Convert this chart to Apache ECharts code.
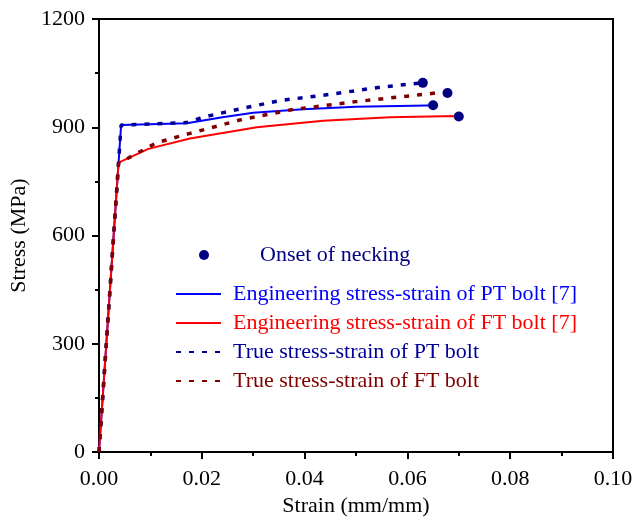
<!DOCTYPE html>
<html>
<head>
<meta charset="utf-8">
<script src="https://cdn.jsdelivr.net/npm/echarts@6/dist/echarts.min.js"></script>
<style>html,body{margin:0;padding:0;background:#fff}#c{width:635px;height:522px}</style>
</head>
<body>
<div id="c"></div>
<script>
// Onset of necking points
const neckStrain = [0.063, 0.065, 0.0678, 0.070];
const neckStress = [1023, 961, 995, 930];
// Engineering stress-strain of PT bolt [7]
const engPTStrain = [0, 0.0043, 0.0171, 0.0240, 0.030, 0.0397, 0.050, 0.0638, 0.065];
const engPTStress = [0, 906, 911, 928, 940, 950, 957, 960, 960];
// Engineering stress-strain of FT bolt [7]
const engFTStrain = [0, 0.0038, 0.0096, 0.0177, 0.0307, 0.0436, 0.0566, 0.0696, 0.070];
const engFTStress = [0, 802, 840, 869, 900, 918, 928, 931, 930];
// True stress-strain of PT bolt
const truePTStrain = [0, 0.0043, 0.0171, 0.0203, 0.0281, 0.0352, 0.0449, 0.0547, 0.063];
const truePTStress = [0, 906, 913, 928, 953, 974, 991, 1011, 1023];
// True stress-strain of FT bolt
const trueFTStrain = [0, 0.0038, 0.0112, 0.0177, 0.0274, 0.0372, 0.050, 0.065, 0.0678];
const trueFTStress = [0, 800, 857, 883, 920, 948, 971, 994, 995];

const names = ['Onset of necking', 'Engineering stress-strain of PT bolt [7]', 'Engineering stress-strain of FT bolt [7]', 'True stress-strain of PT bolt', 'True stress-strain of FT bolt'];
const xTicks = [0, 0.1, 0.02];
const yTicks = [0, 1200, 300];

const zip = (a, b) => a.map((v, i) => [v, b[i]]);
const font = 'Liberation Serif';
const chart = echarts.init(document.getElementById('c'), null, {renderer: 'canvas'});

const lineSeries = (name, xs, ys, color, type, width) => ({
  name, type: 'line', data: zip(xs, ys), symbol: 'none', smooth: false,
  lineStyle: {color, width, type}, itemStyle: {color}, z: 2, animation: false
});

chart.setOption({
  animation: false,
  grid: {left: 99, right: 22, top: 19, bottom: 70, show: true, borderColor: '#000', borderWidth: 2, outerBoundsMode: 'none', containLabel: false},
  xAxis: {
    type: 'value', min: xTicks[0], max: xTicks[1], interval: xTicks[2],
    name: 'Strain (mm/mm)', nameLocation: 'middle', nameGap: 42,
    nameTextStyle: {fontFamily: font, fontSize: 22, color: '#000'},
    axisLine: {show: true, lineStyle: {color: '#000', width: 2}},
    axisTick: {show: true, length: 7, inside: false, lineStyle: {color: '#000', width: 2}},
    minorTick: {show: true, splitNumber: 2, length: 4, lineStyle: {color: '#000', width: 2}},
    splitLine: {show: false},
    axisLabel: {fontFamily: font, fontSize: 22, color: '#000', margin: 16, formatter: v => v.toFixed(2)}
  },
  yAxis: {
    type: 'value', min: yTicks[0], max: yTicks[1], interval: yTicks[2],
    name: 'Stress (MPa)', nameLocation: 'middle', nameGap: 66,
    nameTextStyle: {fontFamily: font, fontSize: 22, color: '#000'},
    axisLine: {show: true, lineStyle: {color: '#000', width: 2}},
    axisTick: {show: true, length: 7, inside: false, lineStyle: {color: '#000', width: 2}},
    minorTick: {show: true, splitNumber: 2, length: 4, lineStyle: {color: '#000', width: 2}},
    splitLine: {show: false},
    axisLabel: {fontFamily: font, fontSize: 22, color: '#000', margin: 14, formatter: v => String(v)}
  },
  legend: [
    {
      data: [{name: names[0], textStyle: {color: '#000080'}}],
      left: 194, top: 239, orient: 'vertical', itemWidth: 14, itemHeight: 10,
      itemStyle: {opacity: 1},
      textStyle: {fontFamily: font, fontSize: 22, padding: [0, 0, 0, 44]}
    },
    {
      data: [
        {name: names[1], textStyle: {color: '#0000FF'}},
        {name: names[2], textStyle: {color: '#FF0000'}},
        {name: names[3], textStyle: {color: '#000099'}},
        {name: names[4], textStyle: {color: '#800000'}}
      ],
      left: 170, top: 278, orient: 'vertical', itemWidth: 45, itemHeight: 14, itemGap: 7,
      itemStyle: {color: 'rgba(0,0,0,0)', borderWidth: 0},
      textStyle: {fontFamily: font, fontSize: 22, lineHeight: 22, padding: [0, 0, 0, 7]}
    }
  ],
  series: [
    lineSeries(names[1], engPTStrain, engPTStress, '#0000FF', 'solid', 2),
    lineSeries(names[2], engFTStrain, engFTStress, '#FF0000', 'solid', 2),
    lineSeries(names[3], truePTStrain, truePTStress, '#000099', [5, 8], 3.5),
    lineSeries(names[4], trueFTStrain, trueFTStress, '#800000', [5, 8], 3.5),
    {
      name: names[0], type: 'scatter', data: zip(neckStrain, neckStress),
      symbol: 'circle', symbolSize: 10, itemStyle: {color: '#000080', opacity: 1}, z: 5
    }
  ]
});
</script>
</body>
</html>
